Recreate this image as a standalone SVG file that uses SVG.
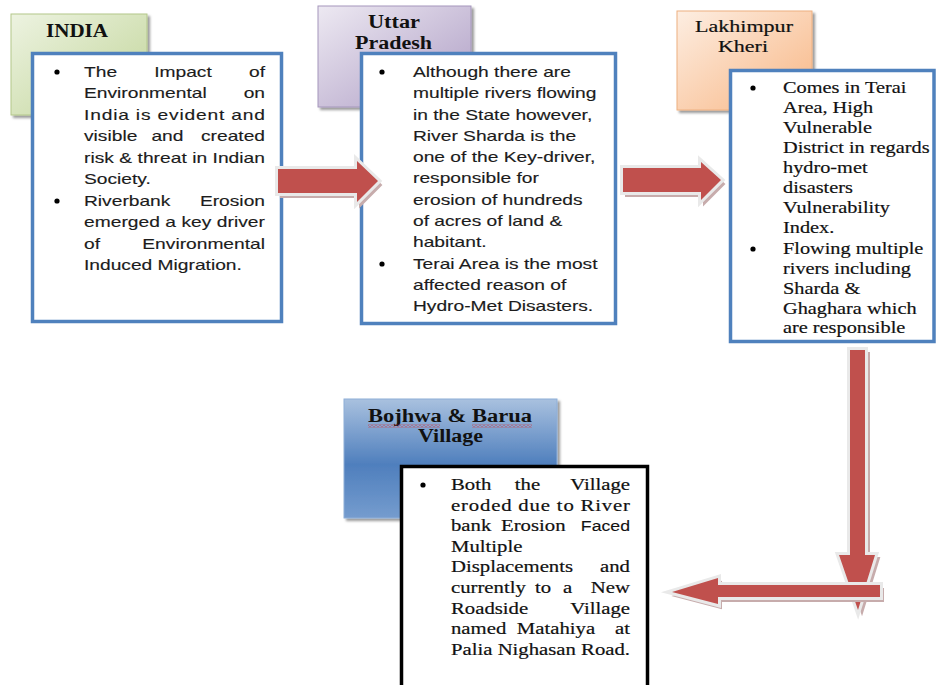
<svg xmlns="http://www.w3.org/2000/svg" width="936" height="685" viewBox="0 0 936 685">
<defs>
<linearGradient id="gGreen" x1="0" y1="0" x2="1" y2="1"><stop offset="0" stop-color="#edf3e1"/><stop offset="1" stop-color="#c0d497"/></linearGradient>
<linearGradient id="gPurple" x1="0" y1="0" x2="1" y2="1"><stop offset="0" stop-color="#ede9f2"/><stop offset="1" stop-color="#ad9cc4"/></linearGradient>
<linearGradient id="gOrange" x1="0" y1="0" x2="1" y2="1"><stop offset="0" stop-color="#fdeee2"/><stop offset="1" stop-color="#f8b684"/></linearGradient>
<linearGradient id="gBlue" x1="0" y1="0" x2="0" y2="1"><stop offset="0" stop-color="#a9c1df"/><stop offset="0.55" stop-color="#4f7fbd"/><stop offset="1" stop-color="#759cce"/></linearGradient>
<filter id="sh" x="-10%" y="-10%" width="130%" height="130%"><feDropShadow dx="2.5" dy="2.5" stdDeviation="1.2" flood-color="#000" flood-opacity="0.4"/></filter>
<pattern id="wavy" width="4" height="3" patternUnits="userSpaceOnUse"><path d="M0,2.4 L2,0.6 L4,2.4" fill="none" stroke="#e02020" stroke-width="0.8"/></pattern>
</defs>
<style>
.hdrRect{filter:url(#sh)}
.hdr{font-family:"Liberation Serif","Times New Roman",serif;font-weight:bold;font-size:18px;fill:#111}
.hdrReg{font-family:"Liberation Serif","Times New Roman",serif;font-size:17px;fill:#111;stroke:#111;stroke-width:0.2}
.box{fill:#fff;stroke:#4f81bd;stroke-width:3.5}
.boxBlack{fill:#fff;stroke:#000;stroke-width:3.5}
.sans{font-family:"Liberation Sans",Arial,sans-serif;font-size:15px;fill:#1c1c1c;stroke:#1c1c1c;stroke-width:0.15}
.serif{font-family:"Liberation Serif","Times New Roman",serif;font-size:16px;fill:#111;stroke:#111;stroke-width:0.18}
.serif17{font-family:"Liberation Serif","Times New Roman",serif;font-size:17px;fill:#111;stroke:#111;stroke-width:0.2}
.end{text-anchor:end}
.mid{text-anchor:middle}
.bullet{fill:#000}
.ash{fill:#c7acac;stroke:#c7acac;stroke-width:2}
.arr{fill:#c0504d;stroke:#e9e9e9;stroke-width:6;paint-order:stroke;stroke-linejoin:miter}
</style>
<rect width="936" height="685" fill="#fff"/>

<g id="node-india">
<rect class="hdrRect" x="11" y="14" width="136" height="101" fill="url(#gGreen)" stroke="#b3c78a" stroke-width="1"/>
<text class="hdr" x="46" y="37" textLength="62" lengthAdjust="spacingAndGlyphs">INDIA</text>
<rect class="box" x="32.5" y="53.5" width="249" height="268"/>
<circle class="bullet" cx="57" cy="72" r="2.6"/>
<circle class="bullet" cx="57" cy="201" r="2.6"/>
<g class="sans" transform="translate(84,0) scale(1.28,1)">
<text x="0" y="77">The</text><text class="mid" x="77.3" y="77">Impact</text><text class="end" x="141.4" y="77">of</text>
<text x="0" y="98.5">Environmental</text><text class="end" x="141.4" y="98.5">on</text>
<text x="0" y="119.9" textLength="141.4" lengthAdjust="spacing">India is evident and</text>
<text x="0" y="141.4">visible</text><text class="mid" x="65.2" y="141.4">and</text><text class="end" x="141.4" y="141.4">created</text>
<text x="0" y="162.8" textLength="141.4" lengthAdjust="spacing">risk &amp; threat in Indian</text>
<text x="0" y="184.3">Society.</text>
<text x="0" y="205.7">Riverbank</text><text class="end" x="141.4" y="205.7">Erosion</text>
<text x="0" y="227.2" textLength="141.4" lengthAdjust="spacing">emerged a key driver</text>
<text x="0" y="248.6">of</text><text class="end" x="141.4" y="248.6">Environmental</text>
<text x="0" y="270.1">Induced Migration.</text>
</g>
</g>

<g id="node-uttar-pradesh">
<rect class="hdrRect" x="318" y="6" width="153" height="101" fill="url(#gPurple)" stroke="#a596bb" stroke-width="1"/>
<text class="hdr" x="368" y="27.5" textLength="52" lengthAdjust="spacingAndGlyphs">Uttar</text>
<text class="hdr" x="355" y="49" textLength="77" lengthAdjust="spacingAndGlyphs">Pradesh</text>
<rect class="box" x="361.5" y="53.5" width="254" height="270"/>
<circle class="bullet" cx="382" cy="72" r="2.6"/>
<circle class="bullet" cx="382" cy="264" r="2.6"/>
<g class="sans" transform="translate(413,0) scale(1.28,1)">
<text x="0" y="77">Although there are</text>
<text x="0" y="98.3">multiple rivers flowing</text>
<text x="0" y="119.6">in the State  however,</text>
<text x="0" y="140.9">River Sharda is the</text>
<text x="0" y="162.2">one of the Key-driver,</text>
<text x="0" y="183.5">responsible for</text>
<text x="0" y="204.8">erosion of hundreds</text>
<text x="0" y="226.1">of acres of land &amp;</text>
<text x="0" y="247.4">habitant.</text>
<text x="0" y="268.7">Terai Area is the most</text>
<text x="0" y="290">affected reason of</text>
<text x="0" y="311.3">Hydro-Met Disasters.</text>
</g>
</g>

<g id="node-lakhimpur-kheri">
<rect class="hdrRect" x="677" y="11" width="135" height="99" fill="url(#gOrange)" stroke="#eeb080" stroke-width="1"/>
<text class="hdrReg" x="695" y="32" textLength="98" lengthAdjust="spacingAndGlyphs">Lakhimpur</text>
<text class="hdrReg" x="718" y="52" textLength="50" lengthAdjust="spacingAndGlyphs">Kheri</text>
<rect class="box" x="730.5" y="70.5" width="203.5" height="271"/>
<circle class="bullet" cx="753" cy="88" r="2.6"/>
<circle class="bullet" cx="753" cy="249" r="2.6"/>
<g class="serif" transform="translate(783,0) scale(1.27,1)">
<text x="0" y="93">Comes in Terai</text>
<text x="0" y="113">Area, High</text>
<text x="0" y="133">Vulnerable</text>
<text x="0" y="153">District in regards</text>
<text x="0" y="173">hydro-met</text>
<text x="0" y="193">disasters</text>
<text x="0" y="213">Vulnerability</text>
<text x="0" y="233">Index.</text>
<text x="0" y="254">Flowing multiple</text>
<text x="0" y="274">rivers including</text>
<text x="0" y="294">Sharda &amp;</text>
<text x="0" y="314">Ghaghara which</text>
<text x="0" y="333">are responsible</text>
</g>
</g>

<g id="node-bojhwa-barua">
<rect class="hdrRect" x="344" y="399" width="213" height="119" fill="url(#gBlue)" stroke="#8eaed8" stroke-width="1"/>
<text class="hdr" x="368" y="422" textLength="164" lengthAdjust="spacingAndGlyphs">Bojhwa &amp; Barua</text>
<rect x="368" y="424.5" width="72" height="3" fill="url(#wavy)"/>
<rect x="472" y="424.5" width="60" height="3" fill="url(#wavy)"/>
<text class="hdr" x="418" y="442" textLength="65" lengthAdjust="spacingAndGlyphs">Village</text>
<rect class="boxBlack" x="401.5" y="466.5" width="246" height="230"/>
<circle class="bullet" cx="423" cy="485" r="2.6"/>
<g class="serif17" transform="translate(451,0) scale(1.22,1)">
<text x="0" y="490">Both</text><text class="mid" x="62.7" y="490">the</text><text class="end" x="146.7" y="490">Village</text>
<text x="0" y="510.6" textLength="146.7" lengthAdjust="spacing">eroded due to River</text>
<text x="0" y="531.2">bank</text><text x="41" y="531.2">Erosion</text><text class="end" x="146.7" y="531.2" style="font-family:'Liberation Sans',Arial,sans-serif;font-size:14.5px;stroke-width:0.1">Faced</text>
<text x="0" y="551.8">Multiple</text>
<text x="0" y="572.4">Displacements</text><text class="end" x="146.7" y="572.4">and</text>
<text x="0" y="593">currently</text><text x="68.9" y="593">to</text><text x="91.8" y="593">a</text><text class="end" x="146.7" y="593">New</text>
<text x="0" y="613.6">Roadside</text><text class="end" x="146.7" y="613.6">Village</text>
<text x="0" y="634.2">named</text><text x="54" y="634.2">Matahiya</text><text class="end" x="146.7" y="634.2">at</text>
<text x="0" y="654.8">Palia Nighasan Road.</text>
</g>
</g>

<g id="connectors">
<g id="arrow-india-up">
<path class="ash" transform="translate(3,4)" d="M278,169 H357 V161 L378,181 L357,202 V193 H278 Z"/>
<path class="arr" d="M278,169 H357 V161 L378,181 L357,202 V193 H278 Z"/>
</g>
<g id="arrow-up-lk">
<path class="ash" transform="translate(3,4)" d="M623,168 H701 V162 L721,180 L701,200 V192 H623 Z"/>
<path class="arr" d="M623,168 H701 V162 L721,180 L701,200 V192 H623 Z"/>
</g>
<g id="arrow-lk-down">
<path class="ash" transform="translate(4,3)" d="M850,350 V555 H839 L858,610 L875,555 H865 V350 Z"/>
<path class="arr" d="M850,350 V555 H839 L858,610 L875,555 H865 V350 Z"/>
</g>
<g id="arrow-to-bojhwa">
<path class="ash" transform="translate(3,4)" d="M880,585 H718 V578 L672,592 L718,604 V597 H880 Z"/>
<path class="arr" d="M880,585 H718 V578 L672,592 L718,604 V597 H880 Z"/>
</g>
</g>
</svg>
